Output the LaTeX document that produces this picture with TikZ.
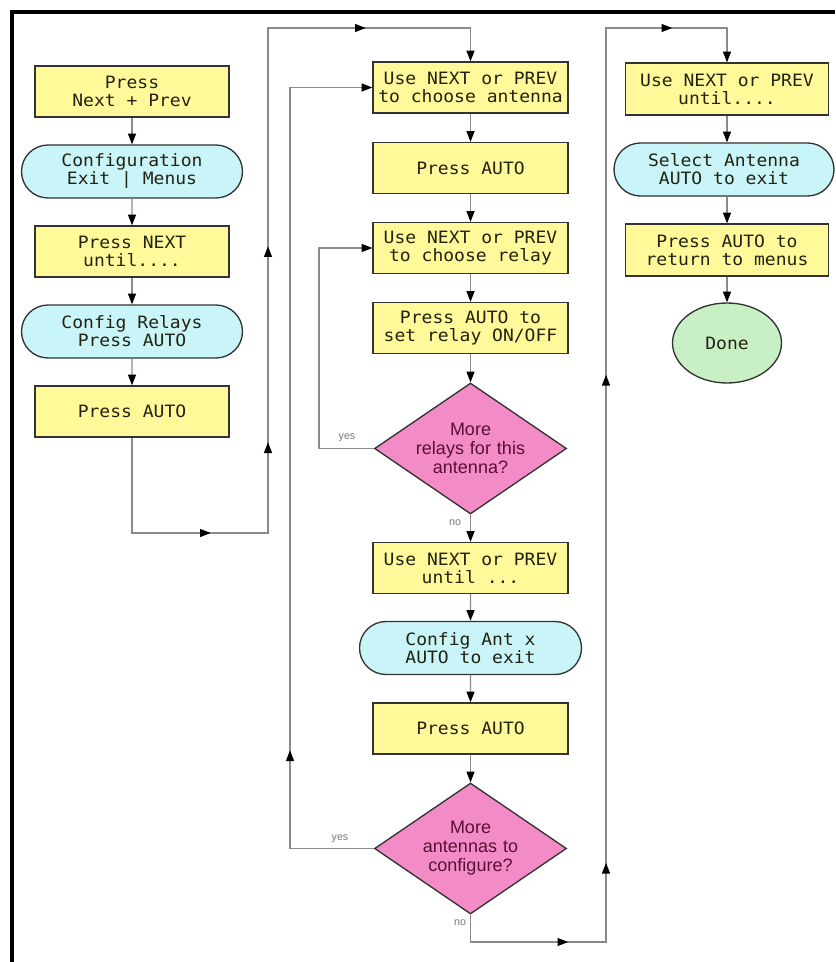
\documentclass[tikz,border=0pt]{standalone}
\usepackage{fontspec}
\usetikzlibrary{shapes.geometric,shapes.misc,arrows.meta,decorations.markings}
\newfontfamily\boxfont[FakeStretch=1.06]{DejaVu Sans Mono}
\newfontfamily\dfont{Liberation Sans}
\definecolor{yfill}{HTML}{FFF99A}
\definecolor{cfill}{HTML}{C9F5F9}
\definecolor{pfill}{HTML}{F28BC6}
\definecolor{gfill}{HTML}{C8F0C4}
\definecolor{edge}{HTML}{333333}
\definecolor{txt}{HTML}{222211}
\definecolor{dtxt}{HTML}{5A1035}
\definecolor{linec}{HTML}{8A8A8A}
\definecolor{lbl}{HTML}{777777}
\begin{document}
\begin{tikzpicture}[x=0.75pt,y=-0.75pt,
  >={Triangle[length=8pt,width=6pt,color=black,fill=black]},
  base/.style={draw=edge, line width=1pt, inner sep=0pt, align=center,
    font=\boxfont\fontsize{12.75pt}{13.5pt}\selectfont, text=txt},
  lbox/.style={base, rectangle, fill=yfill, minimum width=145.5pt, minimum height=38.25pt},
  cbox/.style={base, rectangle, fill=yfill, minimum width=146.25pt, minimum height=38.25pt},
  rbox/.style={base, rectangle, fill=yfill, minimum width=152.25pt, minimum height=39pt},
  term/.style={base, rounded rectangle, fill=cfill, minimum width=#1, minimum height=39.75pt},
  dia/.style={diamond, aspect=1.47, draw=edge, line width=1pt, fill=pfill,
    minimum width=144pt, minimum height=98.25pt, inner sep=0pt, text width=84pt,
    align=center, font=\dfont\fontsize{13.5pt}{14.25pt}\selectfont, text=dtxt},
  doneshape/.style={base, ellipse, fill=gfill, minimum width=81.75pt, minimum height=60pt},
  conn/.style={draw=linec, line width=0.8pt, ->},
  lab/.style={font=\dfont\fontsize{8pt}{9pt}\selectfont, text=lbl, inner sep=0pt}
]
\useasboundingbox (0,0) rectangle (835,962);
\fill[white] (0,0) rectangle (835,962);
% frame
\draw[line width=3pt, black, line join=miter] (12,962) -- (12,12.5) -- (835,12.5);

% left column
\node[lbox] (b1) at (132,91.5) {Press\\Next + Prev};
\node[term=165.75pt] (t1) at (132,171.5) {Configuration\\Exit | Menus};
\node[lbox] (b2) at (132,251.5) {Press NEXT\\until....};
\node[term=165.75pt] (t2) at (132,331.5) {Config Relays\\Press AUTO};
\node[lbox] (b3) at (132,411.5) {Press AUTO};

% center column
\node[cbox] (c1) at (470.5,87.5) {Use NEXT or PREV\\to choose antenna};
\node[cbox] (c2) at (470.5,168) {Press AUTO};
\node[cbox] (c3) at (470.5,248) {Use NEXT or PREV\\to choose relay};
\node[cbox] (c4) at (470.5,328) {Press AUTO to\\set relay ON/OFF};
\node[dia] (d1) at (470.5,448.5) {More\\relays for this\\antenna?};
\node[cbox] (c5) at (470.5,568) {Use NEXT or PREV\\until ...};
\node[term=166.5pt] (c6) at (470.5,648) {Config Ant x\\AUTO to exit};
\node[cbox] (c7) at (470.5,728.5) {Press AUTO};
\node[dia] (d2) at (470.5,848.5) {More\\antennas to\\configure?};

% right column
\node[rbox] (r1) at (727,89) {Use NEXT or PREV\\until....};
\node[term=165pt] (r2) at (724,169.5) {Select Antenna\\AUTO to exit};
\node[rbox] (r3) at (727,250) {Press AUTO to\\return to menus};
\node[doneshape] (done) at (727,343) {Done};

% helper coordinates
\coordinate (a1) at (132,533);
\coordinate (a2) at (268,533);
\coordinate (a3) at (268,28);
\coordinate (y1) at (319,448.5);
\coordinate (y2) at (290,848.5);
\coordinate (n1) at (470.5,942);
\coordinate (n2) at (606,942);
\coordinate (n3) at (606,28);

% straight connectors
\draw[conn] (b1) -- (t1);
\draw[conn] (t1) -- (b2);
\draw[conn] (b2) -- (t2);
\draw[conn] (t2) -- (b3);
\draw[conn] (c1) -- (c2);
\draw[conn] (c2) -- (c3);
\draw[conn] (c3) -- (c4);
\draw[conn] (c4) -- (d1);
\draw[conn] (d1) -- (c5);
\draw[conn] (c5) -- (c6);
\draw[conn] (c6) -- (c7);
\draw[conn] (c7) -- (d2);
\draw[conn] (r1) -- (r1 |- r2.north);
\draw[conn] (r1 |- r2.south) -- (r3);
\draw[conn] (r3) -- (done);

% left column to center column
\draw[conn, postaction={decorate, decoration={markings,
    mark=at position 130.5pt with {\arrow{>}},
    mark=at position 241.5pt with {\arrow{>}},
    mark=at position 388.5pt with {\arrow{>}},
    mark=at position 625.5pt with {\arrow{>}}}}]
  (b3.south) -- (a1) -- (a2) -- (a3) -| (c1.north);

% yes loop of relay diamond
\draw[conn] (d1.west) -- (y1) |- (c3.west);
\node[lab] (yes1) at (347,438) {yes};

% yes loop of antenna diamond
\draw[conn, postaction={decorate, decoration={markings,
    mark=at position 136.5pt with {\arrow{>}}}}]
  (d2.west) -- (y2) |- (c1.west);
\node[lab] (yes2) at (340,839) {yes};

% no labels
\node[lab] (no1) at (455,523) {no};
\node[lab] (no2) at (460,923) {no};

% no from antenna diamond to right column
\draw[conn, postaction={decorate, decoration={markings,
    mark=at position 93.75pt with {\arrow{>}},
    mark=at position 181.5pt with {\arrow{>}},
    mark=at position 547.5pt with {\arrow{>}},
    mark=at position 857.25pt with {\arrow{>}}}}]
  (d2.south) -- (n1) -- (n2) -- (n3) -| (r1.north);
\end{tikzpicture}
\end{document}
